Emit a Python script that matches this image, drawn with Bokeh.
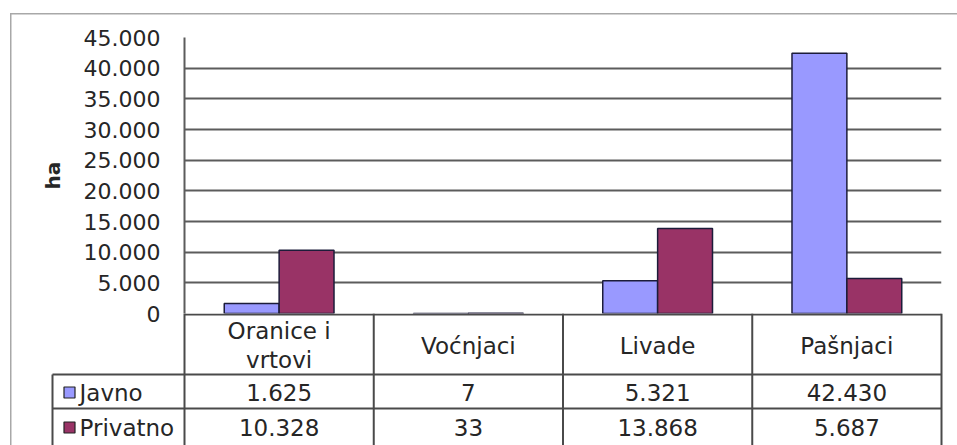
from bokeh.plotting import figure
from bokeh.layouts import column
from bokeh.models import (Range1d, FactorRange, FixedTicker, CustomJSTickFormatter,
                          ColumnDataSource)
from bokeh.transform import dodge
from bokeh.core.properties import value
from bokeh.embed import file_html
from bokeh.resources import INLINE

# ---- data ----
categories = ["Oranice i\nvrtovi", "Voćnjaci", "Livade", "Pašnjaci"]
series = ["Javno", "Privatno"]
javno = [1625, 7, 5321, 42430]
privatno = [10328, 33, 13868, 5687]
y_ticks = [0, 5000, 10000, 15000, 20000, 25000, 30000, 35000, 40000, 45000]
y_label = "ha"

# ---- style ----
colors = ["#9999FF", "#993366"]
FONT = "DejaVu Sans"
TXT = "#262626"
GRID = "#5c5c5c"
TABLE = "#4a4a4a"
BORDER = "#a8a8a8"
BAR_W = 0.29
OVER = 12  # overlap between chart and table canvases

cat_keys = [c.replace("\n", " ") for c in categories]

def fmt(v):
    return f"{v:,}".replace(",", ".")

# ---- chart ----
p = figure(width=957, height=313 + OVER,
           x_range=FactorRange(*cat_keys, range_padding=0),
           y_range=Range1d(0, 45000),
           x_axis_location=None,
           output_backend="svg", toolbar_location=None,
           min_border_left=184, min_border_right=16,
           min_border_top=37, min_border_bottom=OVER)
p.frame_align = False
p.outline_line_color = None
p.background_fill_color = "white"
p.border_fill_color = None
p.xgrid.visible = False

src = ColumnDataSource(dict(cat=cat_keys, javno=javno, privatno=privatno))
p.vbar(x=dodge("cat", -BAR_W / 2, range=p.x_range), top="javno", width=BAR_W,
       source=src, fill_color=colors[0], line_color="#1c1c3a", line_width=1.5)
p.vbar(x=dodge("cat", BAR_W / 2, range=p.x_range), top="privatno", width=BAR_W,
       source=src, fill_color=colors[1], line_color="#1c1c3a", line_width=1.5)

ax = p.yaxis[0]
ax.ticker = FixedTicker(ticks=y_ticks)
ax.formatter = CustomJSTickFormatter(
    code="return tick.toFixed(0).replace(/\\B(?=(\\d{3})+(?!\\d))/g, '.');")
ax.major_tick_out = 0
ax.major_tick_in = 0
ax.minor_tick_out = 0
ax.minor_tick_in = 0
ax.major_label_standoff = 24
ax.major_label_text_font = FONT
ax.major_label_text_font_size = "22px"
ax.major_label_text_color = TXT
ax.axis_line_color = GRID
ax.axis_line_width = 2
ax.axis_label = y_label
ax.axis_label_text_font = FONT
ax.axis_label_text_font_style = "bold"
ax.axis_label_text_font_size = "20px"
ax.axis_label_text_color = TXT
ax.axis_label_standoff = 16
p.ygrid.grid_line_color = GRID
p.ygrid.grid_line_width = 2

# ---- data table ----
PX = 757 / 4.0
X0 = -(184 - 48) / PX
X1 = 4 + (945 - 941) / PX
XL = -(184 - 52) / PX
H = 132
ROW1, ROW2 = 61, 95
YH, YJ, YP = 32, 79, 114

t = figure(width=957, height=H, x_range=Range1d(X0, X1), y_range=Range1d(H, 0),
           x_axis_location=None, y_axis_location=None,
           output_backend="svg", toolbar_location=None,
           min_border_left=48, min_border_right=12,
           min_border_top=0, min_border_bottom=0,
           margin=(-OVER, 0, 0, 0))
t.frame_align = False
t.outline_line_color = None
t.grid.visible = False
t.border_fill_color = None
t.background_fill_color = None

n = len(categories)
# horizontal lines
t.segment(x0=[0, XL, XL], y0=[1, ROW1, ROW2], x1=[n, n, n], y1=[1, ROW1, ROW2],
          line_color=TABLE, line_width=2)
# vertical lines
vx = list(range(n + 1))
t.segment(x0=vx, y0=[0] * len(vx), x1=vx, y1=[H] * len(vx),
          line_color=TABLE, line_width=2)
t.segment(x0=[XL], y0=[ROW1], x1=[XL], y1=[H], line_color=TABLE, line_width=2)

centers = [i + 0.5 for i in range(n)]
t.text(x=centers, y=[YH] * n, text=categories, text_align="center",
       text_baseline="middle", text_font=value(FONT), text_font_size="23px",
       text_color=TXT, text_line_height=1.15)
t.text(x=centers, y=[YJ] * n, text=[fmt(v) for v in javno], text_align="center",
       text_baseline="middle", text_font=value(FONT), text_font_size="23px",
       text_color=TXT)
t.text(x=centers, y=[YP] * n, text=[fmt(v) for v in privatno], text_align="center",
       text_baseline="middle", text_font=value(FONT), text_font_size="23px",
       text_color=TXT)

key_x = -(184 - 69) / PX
lab_x = -(184 - 79) / PX
t.scatter(x=[key_x, key_x], y=[YJ, YP], marker="square", size=11,
          fill_color=colors, line_color="#222222", line_width=1.2)
t.text(x=[lab_x, lab_x], y=[YJ, YP], text=series, text_align="left",
       text_baseline="middle", text_font=value(FONT), text_font_size="23px",
       text_color=TXT)

# chart-area border (light grey, left + top), painted as the container background
bg = (f"linear-gradient({BORDER},{BORDER}) 10px 13px / 1.5px 2000px no-repeat, "
      f"linear-gradient({BORDER},{BORDER}) 10px 13px / 2000px 1.5px no-repeat, white")
layout = column(p, t, spacing=0, styles={"background": bg})
open("out.html", "w").write(file_html(layout, INLINE))
